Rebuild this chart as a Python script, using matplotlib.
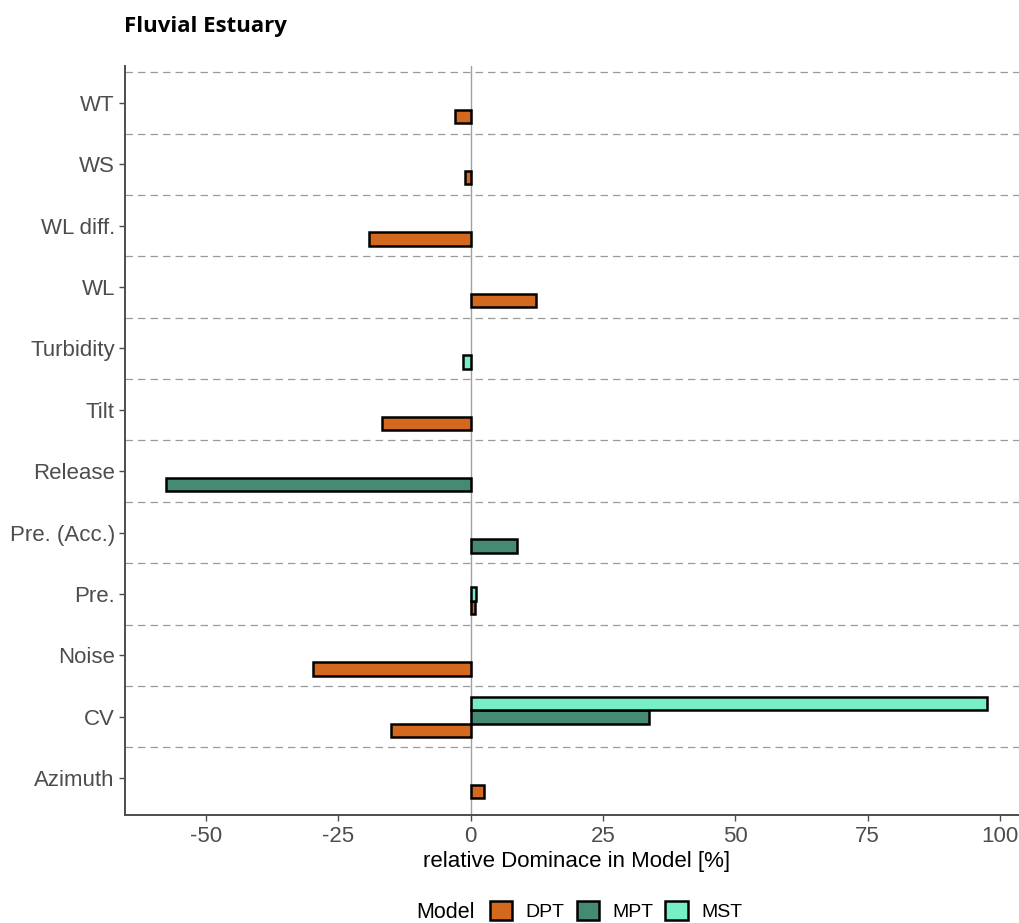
import matplotlib
matplotlib.use('Agg')
import matplotlib.pyplot as plt
from matplotlib.patches import Patch

plt.rcParams['font.family'] = ['Liberation Sans', 'DejaVu Sans']

# категории снизу вверх
categories = ["Azimuth", "CV", "Noise", "Pre.", "Pre. (Acc.)", "Release",
              "Tilt", "Turbidity", "WL", "WL diff.", "WS", "WT"]
models = ["DPT", "MPT", "MST"]
dpt = [2.6, -15.1, -29.7, 0.8, None, None, -16.7, None, 12.4, -19.1, -1.1, -3.0]
mpt = [None, 33.8, None, None, 8.8, -57.6, None, None, None, None, None, None]
mst = [None, 97.5, None, 1.1, None, None, None, -1.45, None, None, None, None]
colors = {"DPT": "#D2691E", "MPT": "#458B74", "MST": "#76EEC6"}

values = {"DPT": dpt, "MPT": mpt, "MST": mst}
BAR_H = 0.22

fig = plt.figure(figsize=(10.2, 9.23), dpi=100)
W, H = 1020, 923
left_px, right_px, top_px, bot_px = 124.6, 1028, 66, 815
ax = fig.add_axes([left_px / W, 1 - bot_px / H, (right_px - left_px) / W, (bot_px - top_px) / H])

ax.axvline(0, color='#A0A0A0', lw=1.0, zorder=1)

# бары: в каждой категории имеющиеся модели идут снизу вверх
for i, cat in enumerate(categories):
    pos = i + 1
    present = [m for m in models if values[m][i] is not None]
    for k, m in enumerate(present):
        y = pos - BAR_H + k * BAR_H
        ax.barh(y, values[m][i], height=BAR_H, color=colors[m],
                edgecolor='black', linewidth=1.8, zorder=3)

for b in range(1, len(categories) + 1):
    ax.axhline(b + 0.5, color='#9A9A9A', lw=0.9, ls=(0, (6, 4)), zorder=2)

ax.set_ylim(0.4, len(categories) + 0.6)
ax.set_xlim(-65.35, 105.3)
ax.set_yticks(range(1, len(categories) + 1))
ax.set_yticklabels(categories)
ax.set_xticks([-50, -25, 0, 25, 50, 75, 100])
ax.set_xticklabels(['-50', '-25', '0', '25', '50', '75', '100'])
ax.tick_params(axis='both', labelsize=16, labelcolor='#4D4D4D', color='#4D4D4D',
               length=4, width=1)
ax.tick_params(axis='x', pad=4)
ax.tick_params(axis='y', pad=3)
for s in ['top', 'right']:
    ax.spines[s].set_visible(False)
for s in ['left', 'bottom']:
    ax.spines[s].set_color('#4D4D4D')
    ax.spines[s].set_linewidth(1.4)

ax.set_xlabel('relative Dominace in Model [%]', fontsize=16, color='black', labelpad=3)

fig.text(124 / W, 1 - 32 / H, 'Fluvial Estuary', fontsize=16, fontweight='bold',
         family=['Open Sans', 'DejaVu Sans'], va='baseline', ha='left')

fig.text(416 / W, 1 - 912 / H, 'Model', fontsize=15.5, va='center', ha='left')
handles = [Patch(facecolor=colors[m], edgecolor='black', linewidth=1.8, label=m) for m in models]
fig.legend(handles=handles, loc='center left', bbox_to_anchor=(486 / W, 1 - 911 / H),
           ncol=3, frameon=False, fontsize=14, handlelength=1.15, handleheight=1.15,
           handletextpad=0.7, columnspacing=0.6, borderaxespad=0, borderpad=0.2)

fig.savefig('out.png', dpi=100)
